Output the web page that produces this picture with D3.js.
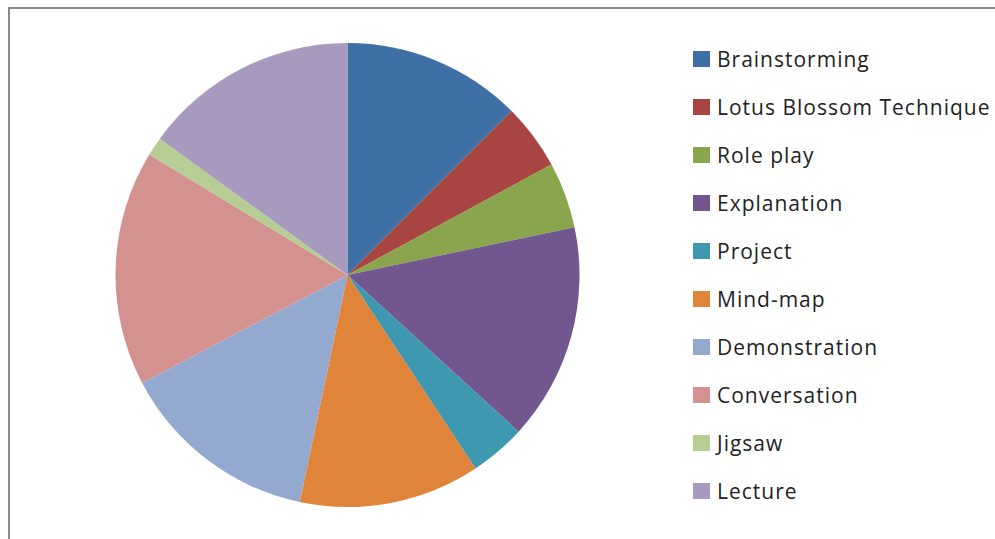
<!DOCTYPE html>
<html lang="en">
<head>
    <meta charset="UTF-8">
    <title>Teaching methods pie</title>
    <style>
        body { margin: 0; background: #fff; }
        svg { display: block; }
    </style>
</head>
<body>
    <div id="chart"></div>
    <script src="https://cdn.jsdelivr.net/npm/d3@7/dist/d3.min.js"></script>
    <script>
        // values (share of the pie, %)
        const methods = ["Brainstorming", "Lotus Blossom Technique", "Role play", "Explanation", "Project",
                         "Mind-map", "Demonstration", "Conversation", "Jigsaw", "Lecture"];
        const shares = [12.5, 4.6, 4.6, 15.1, 3.9, 12.6, 14.0, 16.4, 1.3, 15.0];
        const colors = ["#3e70a6", "#a84542", "#8aa64c", "#71568f", "#3d98b0",
                        "#e0843a", "#93a9cf", "#d3928f", "#b6ce93", "#a899be"];

        const width = 995, height = 539;

        const svg = d3.select("#chart")
            .append("svg")
            .attr("width", width)
            .attr("height", height);

        // chart frame (only top/left visible in the crop)
        svg.append("path")
            .attr("d", "M9,540 V8 H995")
            .attr("fill", "none")
            .attr("stroke", "#8a8a8a")
            .attr("stroke-width", 2);

        const cx = 347.5, cy = 275, radius = 232;

        const data = methods.map((m, i) => ({ name: m, value: shares[i] }));

        const pie = d3.pie()
            .value((d) => d.value)
            .sort(null);

        const arc = d3.arc()
            .innerRadius(0)
            .outerRadius(radius);

        const color = d3.scaleOrdinal()
            .domain(methods)
            .range(colors);

        svg.append("g")
            .attr("transform", `translate(${cx},${cy})`)
            .selectAll("path")
            .data(pie(data))
            .join("path")
                .attr("d", arc)
                .attr("fill", (d) => color(d.data.name))
                .attr("stroke", "none");

        // legend
        const legend = svg.append("g")
            .attr("transform", "translate(693,59)");

        const rowGap = 48;

        const rows = legend.selectAll("g")
            .data(methods)
            .join("g")
                .attr("transform", (d, i) => `translate(0,${i * rowGap})`);

        rows.append("rect")
            .attr("x", 0)
            .attr("y", -8)
            .attr("width", 17)
            .attr("height", 16)
            .attr("fill", (d) => color(d));

        rows.append("text")
            .attr("x", 24)
            .attr("y", 8)
            .attr("font-family", "Open Sans, sans-serif")
            .attr("font-size", 21)
            .attr("letter-spacing", 1)
            .attr("fill", "#222")
            .text((d) => d);
    </script>
</body>
</html>
